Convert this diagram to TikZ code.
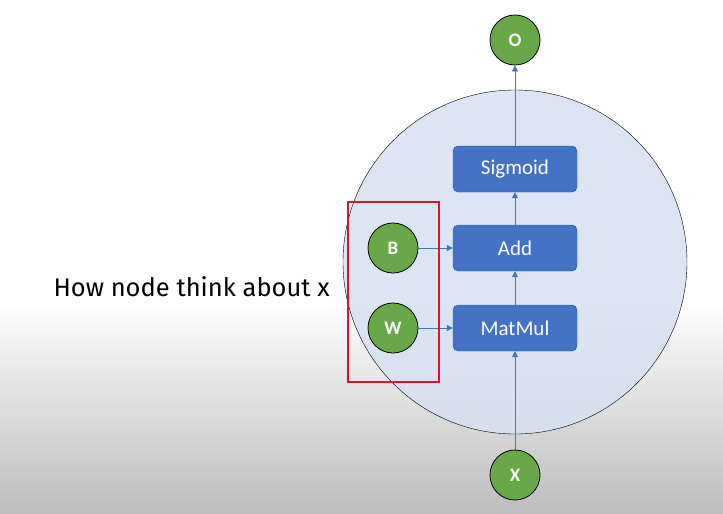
\documentclass[tikz,border=0pt]{standalone}
\usepackage{fontspec}
\setmainfont{Carlito}
\newfontfamily\notefont{Fira Sans}
\usetikzlibrary{arrows.meta}
\definecolor{opblue}{RGB}{68,114,196}
\definecolor{opblueline}{RGB}{47,85,151}
\definecolor{opgreen}{RGB}{104,168,72}
\definecolor{cellfill}{RGB}{214,225,242}
\definecolor{boxred}{RGB}{220,20,40}
\tikzset{
  opbox/.style={draw=opblueline,fill=opblue,rounded corners=5pt,minimum width=124pt,
    minimum height=46pt,text=white,font=\fontsize{21}{24}\selectfont},
  leaf/.style={circle,draw=black,thick,fill=opgreen,minimum size=50pt,inner sep=0pt,
    text=white,font=\fontsize{19}{21}\selectfont\bfseries},
  flow/.style={draw=opblue,thick,-{Triangle[width=6pt,length=6pt]}}
}
\begin{document}
\begin{tikzpicture}[x=1pt,y=-1pt]
  \useasboundingbox (0,0) rectangle (723,514);
  \fill[white] (0,0) rectangle (723,300);
  \shade[top color=white,bottom color=black!26] (0,299) rectangle (723,514);
  \draw[fill=cellfill,fill opacity=0.85] (515,262) circle[radius=172pt];
  \foreach \n/\y/\t in {S/169/Sigmoid, A/248/Add, M/328/MatMul}{
    \node[opbox] (\n) at (515,\y) {\t};
  }
  \foreach \n/\x/\y in {O/515/40, B/393/248, W/393/328, X/515/475}{
    \node[leaf] (\n) at (\x,\y) {\n};
  }
  \foreach \a/\b in {X/M, M/A, A/S, S/O, B/A, W/M}{
    \draw[flow] (\a) -- (\b);
  }
  \draw[boxred,line width=2pt] (348,202) rectangle (439,382);
  \node[anchor=west,font=\notefont\fontsize{25.5}{30}\selectfont] (note) at (50,287) {How node think about x};
\end{tikzpicture}
\end{document}
